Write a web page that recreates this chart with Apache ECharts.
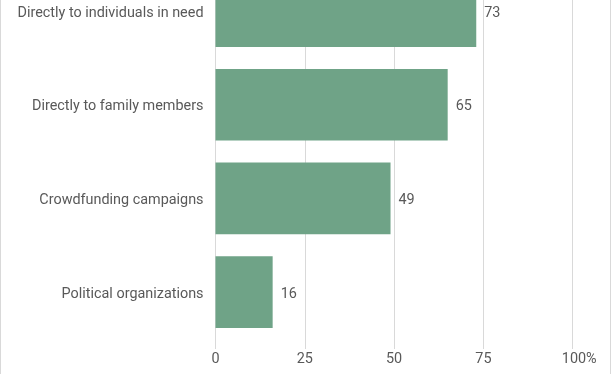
<!DOCTYPE html>
<html>
<head>
<meta charset="utf-8">
<script src="https://cdn.jsdelivr.net/npm/echarts@6/dist/echarts.min.js"></script>
<style>
html,body{margin:0;padding:0;background:#fff;overflow:hidden;width:612px;height:374px;position:relative;}
#c{position:absolute;left:0;top:-36px;width:612px;height:410px;}
</style>
</head>
<body>
<div id="c"></div>
<script>
var categories = ["Directly to individuals in need", "Directly to family members", "Crowdfunding campaigns", "Political organizations"];
var values = [73, 65, 49, 16];
var tickValues = [0, 25, 50, 75, 100];

var chart = echarts.init(document.getElementById('c'), null, {renderer: 'canvas'});
var txt = '#595959';
var fs = 14.4;
chart.setOption({
  animation: false,
  backgroundColor: '#ffffff',
  textStyle: {fontFamily: 'Roboto'},
  graphic: [{
    type: 'rect',
    shape: {x: 0.5, y: 20, width: 610, height: 400},
    style: {fill: 'none', stroke: '#d9d9d9', lineWidth: 1},
    silent: true
  }],
  grid: {left: 215.5, right: 39.3, top: 0.2, bottom: 35, containLabel: false},
  xAxis: {
    type: 'value',
    min: tickValues[0], max: tickValues[tickValues.length - 1], interval: 25,
    axisLine: {show: false},
    axisTick: {show: true, length: 10, lineStyle: {color: '#d9d9d9'}, inside: false},
    splitLine: {show: true, lineStyle: {color: '#d9d9d9', width: 1}},
    axisLabel: {
      color: txt, fontSize: fs, fontFamily: 'Roboto', margin: 13,
      formatter: function (v) { return v === 100 ? '{p|100%}' : String(v); },
      rich: {p: {color: txt, fontSize: fs, fontFamily: 'Roboto', padding: [0, 0, 0, 13]}}
    }
  },
  yAxis: {
    type: 'category',
    inverse: true,
    data: categories,
    axisLine: {show: false},
    axisTick: {show: false},
    axisLabel: {
      color: txt, fontSize: fs, fontFamily: 'Roboto', margin: 12,
      formatter: function (v) { return '{a|' + v + '}'; },
      rich: {a: {color: txt, fontSize: fs, fontFamily: 'Roboto', padding: [4, 0, 0, 0]}}
    }
  },
  series: [{
    type: 'bar',
    data: values,
    barCategoryGap: '23.5%',
    itemStyle: {color: '#6fa387'},
    label: {show: true, position: 'right', distance: 8, offset: [0, 2], color: txt, fontSize: fs, fontFamily: 'Roboto'}
  }]
});
</script>
</body>
</html>
